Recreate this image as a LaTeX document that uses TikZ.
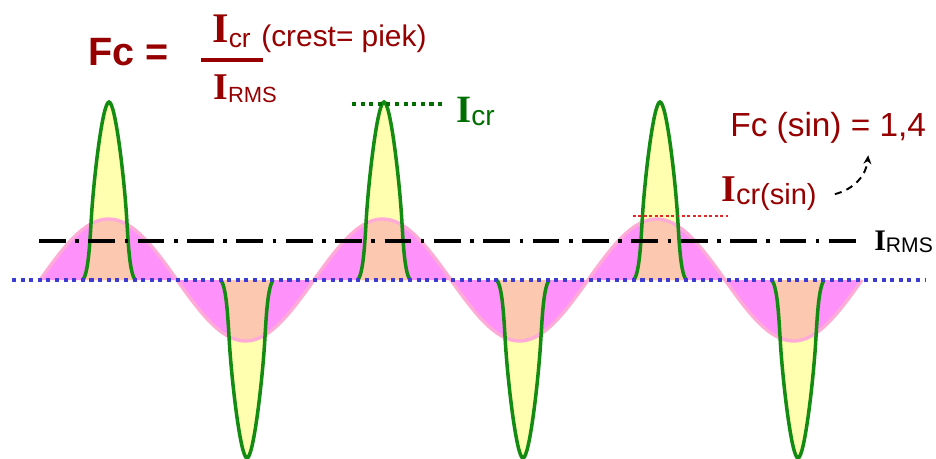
\documentclass[tikz,border=0pt]{standalone}
\usepackage{fontspec}
\setmainfont{Liberation Serif}
\setsansfont{Liberation Sans}
\usepackage{tikz}
\usetikzlibrary{arrows.meta,calc}
\definecolor{bordo}{RGB}{150,0,0}
\definecolor{groen}{RGB}{0,110,0}
\definecolor{lijngroen}{RGB}{20,140,20}
\definecolor{roze}{RGB}{255,145,250}
\definecolor{rozelijn}{RGB}{255,170,215}
\definecolor{geel}{RGB}{255,255,175}
\definecolor{perzik}{RGB}{252,200,175}
\definecolor{blauw}{RGB}{60,60,210}
\definecolor{rood}{RGB}{225,40,40}
\newcommand{\Isub}[4]{{\fontsize{#1}{#1}\selectfont\bfseries I}\raisebox{#4}{\sffamily\fontsize{#2}{#2}\selectfont #3}}
\newcommand{\sinus}{plot[domain=40:862,samples=250] (\x,{280-61*sin((\x-40)/137*180)})}
\newcommand{\puls}{(-26,0) .. controls (-21,-8) and (-19.5,-30) .. (-17.8,-60)
  .. controls (-15.5,-100) and (-6.5,-178) .. (0,-178)
  .. controls (6.5,-178) and (15.5,-100) .. (17.8,-60)
  .. controls (19.5,-30) and (21,-8) .. (26,0)}
\tikzset{
  lab/.style={inner sep=0pt,anchor=base west},
  golf/.style={draw=rozelijn,line width=1.9pt},
  puls/.style={draw=lijngroen,line width=2pt},
  streep/.style={line width=2.1pt,dash pattern=on 15.2pt off 5.4pt on 2.1pt off 5.4pt},
  nul/.style={blauw,line width=2.5pt,dash pattern=on 2.3pt off 2.6pt},
  gstip/.style={groen,line width=2.4pt,dash pattern=on 2.3pt off 2.6pt},
  rstip/.style={rood,line width=1.7pt,dash pattern=on 1.6pt off 1.5pt},
  breuk/.style={bordo,line width=2.2pt},
  pijl/.style={-{Stealth[length=5pt,width=4.5pt]},line width=1.1pt,dash pattern=on 4pt off 3pt},
}
\begin{document}
\begin{tikzpicture}[x=0.02cm,y=-0.02cm]
  \useasboundingbox (0,0) rectangle (936,459);
  % sinus en pulsen
  \fill[roze] \sinus -- cycle;
  \foreach \c/\s in {109/1,384/1,660/1,247/-1,523/-1,798/-1}
    \fill[geel,shift={(\c,280)},yscale=\s] \puls -- cycle;
  \begin{scope}
    \clip \sinus -- cycle;
    \foreach \c/\s in {109/1,384/1,660/1,247/-1,523/-1,798/-1}
      \fill[perzik,shift={(\c,280)},yscale=\s] \puls -- cycle;
  \end{scope}
  \draw[golf] \sinus;
  \foreach \c/\s in {109/1,384/1,660/1,247/-1,523/-1,798/-1}
    \draw[puls,shift={(\c,280)},yscale=\s] \puls;

  \coordinate (rmsL) at (39,241); \coordinate (rmsR) at (858,241);
  \draw[streep] (rmsL) -- (rmsR);
  \coordinate (nulL) at (12,280); \coordinate (nulR) at (925,280);
  \draw[nul] (nulL) -- (nulR);

  % formule
  \node[lab,text=bordo,font=\sffamily\bfseries\fontsize{22.5}{22.5}\selectfont] (fc) at (88,66) {Fc =};
  \node[lab,text=bordo] (teller) at (212,43) {\Isub{24}{15}{cr}{-2.3pt}};
  \node[lab,text=bordo,font=\sffamily\fontsize{17}{17}\selectfont] (crest) at (261,47) {(crest= piek)};
  \coordinate (brL) at (201,60); \coordinate (brR) at (263,60);
  \draw[breuk] (brL) -- (brR);
  \node[lab,text=bordo] (noemer) at (213,100) {\Isub{21.5}{12.5}{RMS}{-1.2pt}};

  \node[lab,text=groen] (icr) at (456,123) {\Isub{22}{16}{cr}{-1.7pt}};
  \coordinate (topL) at (352,104); \coordinate (topR) at (446,104);
  \draw[gstip] (topL) -- (topR);

  \node[lab,text=bordo,font=\sffamily\fontsize{19}{19}\selectfont] (fcsin) at (730,137) {Fc (sin) = 1,4};
  \node[lab,text=bordo] (icrsin) at (721,202) {\Isub{21.5}{16.5}{cr(sin)}{-1.7pt}};
  \coordinate (sinL) at (633,216); \coordinate (sinR) at (729,216);
  \draw[rstip] (sinL) -- (sinR);
  \draw[pijl] ($(icrsin.east)+(18,0)$) to[bend right=35] ($(fcsin.south)+(40,11)$);

  \node[lab] (irms) at (874,251) {\Isub{17}{12}{RMS}{-0.6pt}};
\end{tikzpicture}
\end{document}
